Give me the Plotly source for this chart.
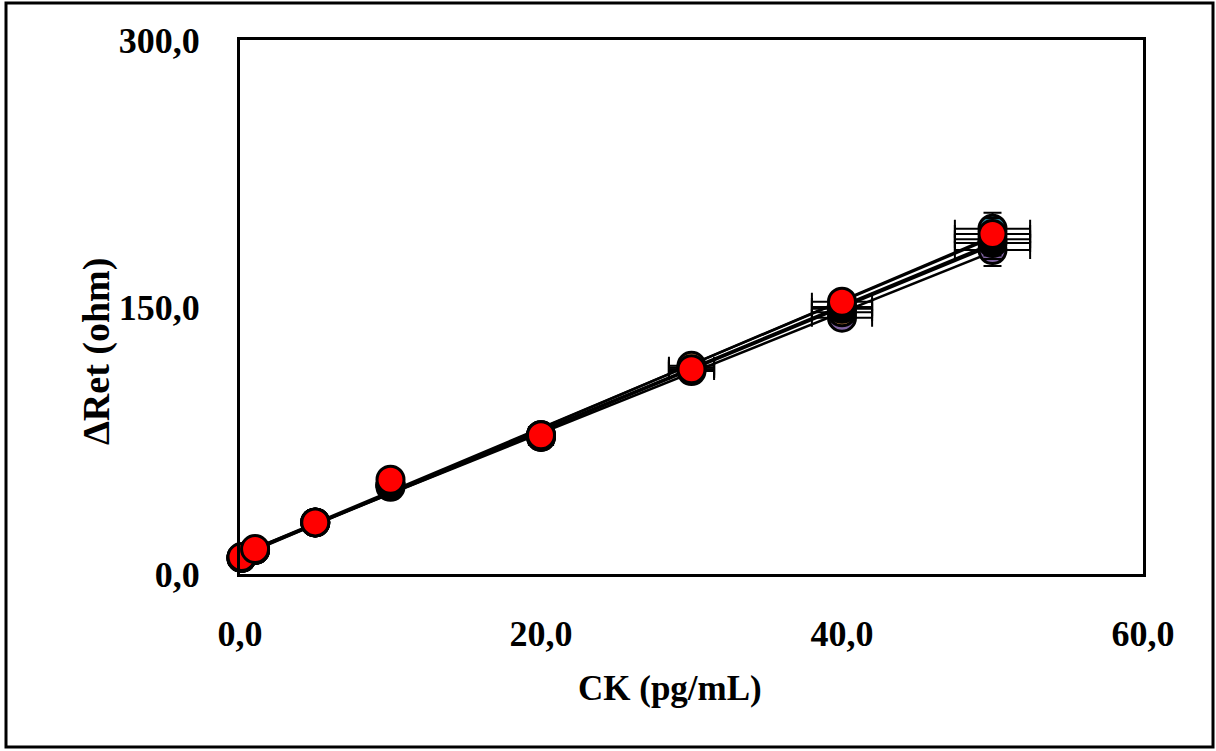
import numpy as np
import plotly.graph_objects as go

# Concentrations (pg/mL)
ck = [0.1, 1.0, 5.0, 10.0, 20.0, 30.0, 40.0, 50.0]

# ΔRet (ohm) for each repeated measurement series
ret_teal = [9.0, 13.5, 29.0, 50.0, 78.0, 116.0, 150.0, 194.0]
ret_purple = [9.0, 13.5, 29.0, 50.0, 77.0, 115.0, 144.0, 182.0]
ret_orange = [9.0, 13.5, 29.0, 50.0, 78.0, 117.0, 147.0, 188.0]
ret_black = [9.0, 13.5, 29.0, 49.0, 77.0, 114.0, 149.0, 186.0]
ret_red = [9.5, 14.0, 29.0, 53.0, 78.0, 115.0, 153.0, 191.0]

# Error bars (horizontal on concentration, vertical on ΔRet)
x_err = [0.0, 0.0, 0.0, 0.0, 0.8, 1.5, 2.0, 2.5]
y_err = [0.0, 0.0, 0.0, 0.0, 1.0, 2.0, 3.0, 9.0]

# Tick labels (decimal comma)
x_ticks = [0, 20, 40, 60]
x_ticktext = ["0,0", "20,0", "40,0", "60,0"]
y_ticks = [0, 150, 300]
y_ticktext = ["0,0", "150,0", "300,0"]

series = [
    ("Série 1", ret_teal, "#31859C"),
    ("Série 2", ret_purple, "#8064A2"),
    ("Série 3", ret_orange, "#E3954E"),
    ("Série 4", ret_black, "#000000"),
    ("Série 5", ret_red, "#FF0000"),
]

FONT = "Liberation Serif, Times New Roman, serif"

fig = go.Figure()

# Linear trendlines first so markers sit on top
for name, vals, color in series:
    slope, intercept = np.polyfit(ck, vals, 1)
    xs = np.array([min(ck), max(ck)])
    fig.add_trace(go.Scatter(
        x=xs, y=slope * xs + intercept, mode="lines",
        line=dict(color="black", width=2.5), showlegend=False,
        hoverinfo="skip", cliponaxis=False,
    ))

for name, vals, color in series:
    fig.add_trace(go.Scatter(
        x=ck, y=vals, mode="markers", name=name,
        marker=dict(size=27, color=color, line=dict(color="black", width=3)),
        error_x=dict(type="data", array=x_err, visible=True,
                     color="black", thickness=2, width=9),
        error_y=dict(type="data", array=y_err, visible=True,
                     color="black", thickness=2, width=9),
        showlegend=False, cliponaxis=False,
    ))

axis_common = dict(
    showgrid=False, zeroline=False, showline=True, linecolor="black",
    linewidth=3, mirror=True, ticks="",
    tickfont=dict(family=FONT, size=36, color="black"),
)

fig.update_layout(
    width=1216, height=751,
    margin=dict(l=240, r=73, t=40, b=177),
    paper_bgcolor="white", plot_bgcolor="white",
    xaxis=dict(range=[0, 60], tickvals=x_ticks,
               ticktext=[f"<b>{t}</b>" for t in x_ticktext],
               ticklabelstandoff=26, **axis_common),
    yaxis=dict(range=[0, 300], tickvals=y_ticks,
               ticktext=[f"<b>{t}</b>" for t in y_ticktext],
               ticklabelstandoff=30, **axis_common),
    font=dict(family=FONT, color="black"),
)

# Axis titles
fig.add_annotation(
    text="<b>CK (pg/mL)</b>", xref="paper", yref="paper",
    x=(670 - 240) / 903, y=(574 - 688) / 534, showarrow=False,
    font=dict(family=FONT, size=35, color="black"),
    xanchor="center", yanchor="middle",
)
fig.add_annotation(
    text="<b>ΔRet (ohm)</b>", xref="paper", yref="paper",
    x=(96 - 240) / 903, y=(574 - 352) / 534, showarrow=False, textangle=-90,
    font=dict(family=FONT, size=38, color="black"),
    xanchor="center", yanchor="middle",
)

# Outer frame around the whole chart
fig.add_shape(
    type="rect", xref="paper", yref="paper",
    x0=(6 - 240) / 903, x1=(1213 - 240) / 903,
    y0=(574 - 747) / 534, y1=(574 - 3) / 534,
    line=dict(color="black", width=3), fillcolor="rgba(0,0,0,0)",
)

fig.write_html("out.html")
